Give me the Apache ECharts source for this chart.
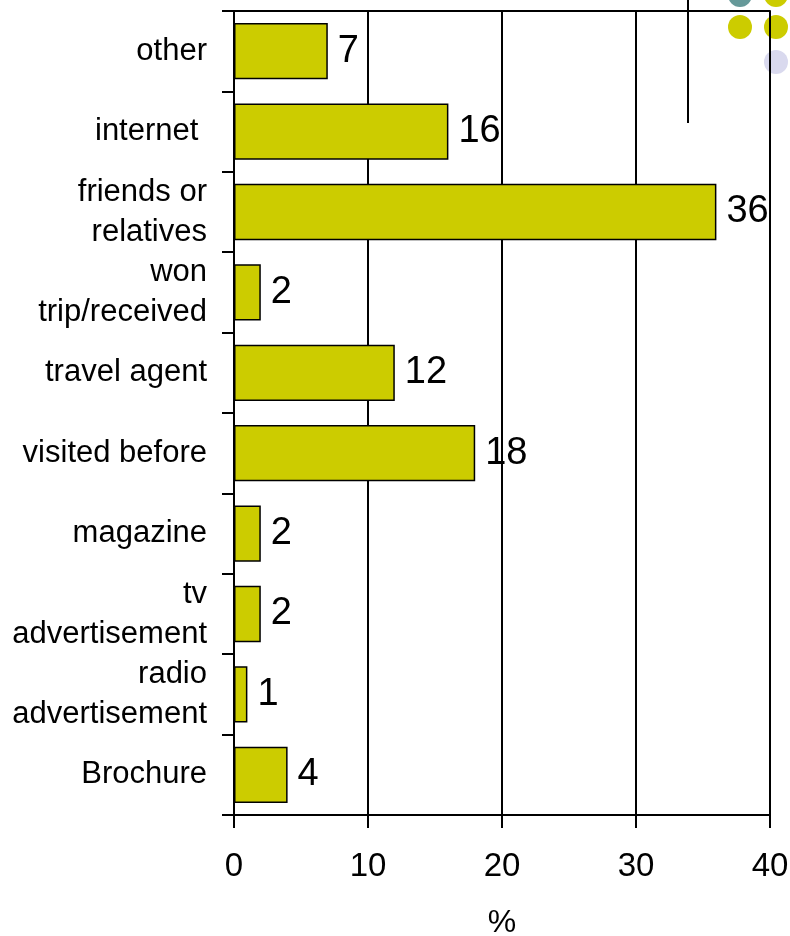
<!DOCTYPE html>
<html>
<head>
<meta charset="utf-8">
<script src="https://cdn.jsdelivr.net/npm/echarts@6/dist/echarts.min.js"></script>
<style>
  html, body { margin: 0; padding: 0; background: #fff; }
  #chart { width: 790px; height: 936px; }
</style>
</head>
<body>
<div id="chart"></div>
<script>
// Sources of information, listed bottom to top on the category axis
const categories = [
  'Brochure',
  'radio\nadvertisement',
  'tv\nadvertisement',
  'magazine',
  'visited before',
  'travel agent',
  'won\ntrip/received',
  'friends or\nrelatives',
  'internet ',
  'other'
];
const shares = [4, 1, 2, 2, 18, 12, 2, 36, 16, 7];
const xTicks = [0, 10, 20, 30, 40];

const FONT = 'Liberation Sans, Arial, sans-serif';
const chart = echarts.init(document.getElementById('chart'), null, { renderer: 'canvas' });

chart.setOption({
  animation: false,
  backgroundColor: '#ffffff',
  grid: { left: 234, right: 20, top: 11, bottom: 121, containLabel: false, outerBoundsMode: 'none' },
  xAxis: [
    {
      type: 'value',
      position: 'bottom',
      min: xTicks[0],
      max: xTicks[xTicks.length - 1],
      interval: 10,
      name: '%',
      nameLocation: 'middle',
      nameGap: 92,
      nameTextStyle: { fontFamily: FONT, fontSize: 32, color: '#000' },
      axisLine: { show: true, lineStyle: { color: '#000', width: 2 } },
      axisTick: { show: true, length: 13, lineStyle: { color: '#000', width: 2 } },
      axisLabel: { fontFamily: FONT, fontSize: 33, color: '#000', margin: 35 },
      splitLine: { show: true, lineStyle: { color: '#000', width: 2 } }
    },
    {
      // top border of the plot area
      type: 'value',
      position: 'top',
      min: 0,
      max: 40,
      axisLine: { show: true, onZero: false, lineStyle: { color: '#000', width: 2 } },
      axisTick: { show: false },
      axisLabel: { show: false },
      splitLine: { show: false }
    }
  ],
  yAxis: {
    type: 'category',
    data: categories,
    axisLine: { show: true, lineStyle: { color: '#000', width: 2 } },
    axisTick: { show: true, length: 12, lineStyle: { color: '#000', width: 2 } },
    axisLabel: {
      fontFamily: FONT, fontSize: 31, color: '#000', margin: 27,
      lineHeight: 40, align: 'right'
    },
    splitLine: { show: false }
  },
  series: [{
    type: 'bar',
    data: shares,
    barWidth: '70%',
    itemStyle: { color: '#cccc00', borderColor: '#000', borderWidth: 1.5 },
    label: {
      show: true, position: 'right', distance: 10,
      fontFamily: FONT, fontSize: 38, color: '#000'
    }
  }],
  graphic: [
    { type: 'line', shape: { x1: 688, y1: 0, x2: 688, y2: 123 }, style: { stroke: '#000', lineWidth: 2 } },
    { type: 'circle', shape: { cx: 740, cy: -5, r: 12 }, style: { fill: '#669999' } },
    { type: 'circle', shape: { cx: 776, cy: -5, r: 12 }, style: { fill: '#cccc00' } },
    { type: 'circle', shape: { cx: 740, cy: 27, r: 12 }, style: { fill: '#cccc00' } },
    { type: 'circle', shape: { cx: 776, cy: 27, r: 12 }, style: { fill: '#cccc00' } },
    { type: 'circle', shape: { cx: 776, cy: 62, r: 12 }, style: { fill: '#d9d9ee' } }
  ]
});
</script>
</body>
</html>
